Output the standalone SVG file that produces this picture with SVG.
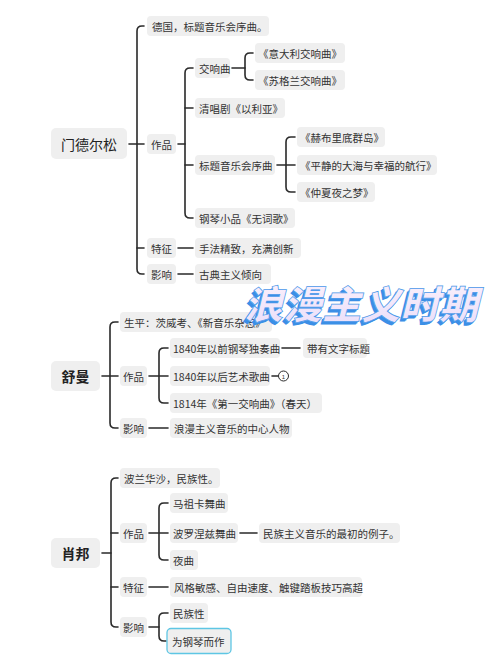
<svg xmlns="http://www.w3.org/2000/svg" width="500" height="666" viewBox="0 0 500 666">
<style>
.b{fill:#efefef}
.t{font-family:"Noto Sans CJK SC","Noto Sans",sans-serif;font-size:10.5px;fill:#333;dominant-baseline:central}
.r{font-family:"Noto Sans CJK SC","Noto Sans",sans-serif;font-size:14px;fill:#222;dominant-baseline:central;text-anchor:middle}
.l{stroke:#2a2a2a;stroke-width:1.6;fill:none;stroke-linecap:round}
.ti{font-family:"Noto Sans CJK SC",sans-serif;font-size:39px;font-weight:900}
</style>
<defs>
<linearGradient id="tg" x1="0" y1="0" x2="0" y2="1">
<stop offset="0" stop-color="#fdf2fb"/>
<stop offset="1" stop-color="#e9defa"/>
</linearGradient>
</defs>
<rect width="500" height="666" fill="#ffffff"/>

<g id="connectors">
<!-- Mendelssohn -->
<path class="l" d="M129 144 H144"/>
<path class="l" d="M144 26 H142 Q137 26 137 31 V269 Q137 274 142 274 H144"/>
<path class="l" d="M137 248 H144"/>
<path class="l" d="M178 144 H185"/>
<path class="l" d="M193 68 H190 Q185 68 185 73 V213 Q185 218 190 218 H193"/>
<path class="l" d="M185 108 H193 M185 165 H193"/>
<path class="l" d="M232 68 H245"/>
<path class="l" d="M253 53 H250 Q245 53 245 58 V75 Q245 80 250 80 H253"/>
<path class="l" d="M277 165 H295"/>
<path class="l" d="M295 137 H291 Q286 137 286 142 V187 Q286 192 291 192 H295"/>
<path class="l" d="M178 248 H193 M178 274 H193"/>
<!-- Schumann -->
<path class="l" d="M102 376 H118"/>
<path class="l" d="M118 322 H115 Q110 322 110 327 V423 Q110 428 115 428 H118"/>
<path class="l" d="M149 376 H168"/>
<path class="l" d="M168 348 H164 Q159 348 159 353 V398 Q159 403 164 403 H168"/>
<path class="l" d="M282 348 H300"/>
<path class="l" d="M272 376 H278"/>
<path class="l" d="M149 428 H168"/>
<!-- Chopin -->
<path class="l" d="M102 553 H111"/>
<path class="l" d="M118 478 H116 Q111 478 111 483 V622 Q111 627 116 627 H118"/>
<path class="l" d="M111 533 H118 M111 587 H118"/>
<path class="l" d="M149 533 H168"/>
<path class="l" d="M168 503 H164 Q159 503 159 508 V555 Q159 560 164 560 H168"/>
<path class="l" d="M240 533 H257"/>
<path class="l" d="M149 587 H168"/>
<path class="l" d="M149 627 H159"/>
<path class="l" d="M168 613 H164 Q159 613 159 618 V636 Q159 641 164 641 H166"/>
</g>

<!-- Mendelssohn nodes -->
<g id="mendelssohn"><rect class="b" x="51" y="128" width="76" height="31" rx="5"/><text class="r" x="89" y="144">门德尔松</text></g>
<g id="m-bio"><rect class="b" x="147" y="16" width="122" height="20" rx="4"/><text class="t" x="152" y="26">德国，标题音乐会序曲。</text></g>
<g id="m-works"><rect class="b" x="147" y="134" width="29" height="20" rx="4"/><text class="t" x="151" y="144">作品</text></g>
<g id="m-feature"><rect class="b" x="147" y="238" width="29" height="20" rx="4"/><text class="t" x="151" y="248">特征</text></g>
<g id="m-influence"><rect class="b" x="147" y="264" width="29" height="20" rx="4"/><text class="t" x="151" y="274">影响</text></g>
<g id="m-symph"><rect class="b" x="195" y="58" width="35" height="20" rx="4"/><text class="t" x="199" y="68">交响曲</text></g>
<g id="m-oratorio"><rect class="b" x="195" y="98" width="90" height="20" rx="4"/><text class="t" x="199" y="108">清唱剧《以利亚》</text></g>
<g id="m-overture"><rect class="b" x="195" y="155" width="80" height="20" rx="4"/><text class="t" x="199" y="165">标题音乐会序曲</text></g>
<g id="m-piano"><rect class="b" x="195" y="208" width="100" height="20" rx="4"/><text class="t" x="199" y="218">钢琴小品《无词歌》</text></g>
<g id="m-italy"><rect class="b" x="255" y="43" width="90" height="20" rx="4"/><text class="t" x="258" y="53">《意大利交响曲》</text></g>
<g id="m-scot"><rect class="b" x="255" y="70" width="90" height="20" rx="4"/><text class="t" x="258" y="80">《苏格兰交响曲》</text></g>
<g id="m-hebrides"><rect class="b" x="297" y="127" width="88" height="20" rx="4"/><text class="t" x="300" y="137">《赫布里底群岛》</text></g>
<g id="m-calm"><rect class="b" x="297" y="155" width="140" height="20" rx="4"/><text class="t" x="300" y="165">《平静的大海与幸福的航行》</text></g>
<g id="m-dream"><rect class="b" x="297" y="182" width="78" height="20" rx="4"/><text class="t" x="300" y="192">《仲夏夜之梦》</text></g>
<g id="m-feat-text"><rect class="b" x="195" y="238" width="106" height="20" rx="4"/><text class="t" x="199" y="248">手法精致，充满创新</text></g>
<g id="m-infl-text"><rect class="b" x="195" y="264" width="76" height="20" rx="4"/><text class="t" x="199" y="274">古典主义倾向</text></g>

<!-- Schumann nodes -->
<g id="schumann"><rect class="b" x="51" y="361" width="49" height="30" rx="5"/><text class="r" x="75.5" y="376" font-weight="700">舒曼</text></g>
<g id="s-bio"><rect class="b" x="120" y="312" width="152" height="20" rx="4"/><text class="t" x="124" y="322">生平：茨威考、《新音乐杂志》</text></g>
<g id="s-works"><rect class="b" x="120" y="366" width="27" height="20" rx="4"/><text class="t" x="123" y="376">作品</text></g>
<g id="s-influence"><rect class="b" x="120" y="418" width="27" height="20" rx="4"/><text class="t" x="123" y="428">影响</text></g>
<g id="s-piano"><rect class="b" x="170" y="338" width="110" height="20" rx="4"/><text class="t" x="173" y="348">1840年以前钢琴独奏曲</text></g>
<g id="s-title"><rect class="b" x="303" y="338" width="64" height="20" rx="4"/><text class="t" x="307" y="348">带有文字标题</text></g>
<g id="s-song"><rect class="b" x="170" y="366" width="100" height="20" rx="4"/><text class="t" x="173" y="376">1840年以后艺术歌曲</text></g>
<g id="s-note"><circle cx="283.5" cy="376" r="5" fill="#fff" stroke="#2a2a2a" stroke-width="1"/><text x="283.5" y="376.5" font-family="Liberation Sans,sans-serif" font-size="6" fill="#333" text-anchor="middle" dominant-baseline="central">1</text></g>
<g id="s-symph"><rect class="b" x="170" y="393" width="152" height="20" rx="4"/><text class="t" x="173" y="403">1814年《第一交响曲》（春天）</text></g>
<g id="s-infl-text"><rect class="b" x="170" y="418" width="122" height="20" rx="4"/><text class="t" x="174" y="428">浪漫主义音乐的中心人物</text></g>

<!-- Chopin nodes -->
<g id="chopin"><rect class="b" x="51" y="538" width="49" height="30" rx="5"/><text class="r" x="75.5" y="553" font-weight="700">肖邦</text></g>
<g id="c-bio"><rect class="b" x="120" y="468" width="100" height="20" rx="4"/><text class="t" x="124" y="478">波兰华沙，民族性。</text></g>
<g id="c-works"><rect class="b" x="120" y="523" width="27" height="20" rx="4"/><text class="t" x="123" y="533">作品</text></g>
<g id="c-feature"><rect class="b" x="120" y="577" width="27" height="20" rx="4"/><text class="t" x="123" y="587">特征</text></g>
<g id="c-influence"><rect class="b" x="120" y="617" width="27" height="20" rx="4"/><text class="t" x="123" y="627">影响</text></g>
<g id="c-mazurka"><rect class="b" x="170" y="493" width="58" height="20" rx="4"/><text class="t" x="173" y="503">马祖卡舞曲</text></g>
<g id="c-polonaise"><rect class="b" x="170" y="523" width="68" height="20" rx="4"/><text class="t" x="173" y="533">波罗涅兹舞曲</text></g>
<g id="c-example"><rect class="b" x="259" y="523" width="141" height="20" rx="4"/><text class="t" x="263" y="533">民族主义音乐的最初的例子。</text></g>
<g id="c-nocturne"><rect class="b" x="170" y="550" width="28" height="20" rx="4"/><text class="t" x="173" y="560">夜曲</text></g>
<g id="c-feat-text"><rect class="b" x="170" y="577" width="192" height="20" rx="4"/><text class="t" x="174" y="587">风格敏感、自由速度、触键踏板技巧高超</text></g>
<g id="c-national"><rect class="b" x="170" y="603" width="38" height="20" rx="4"/><text class="t" x="173" y="613">民族性</text></g>
<g id="c-piano"><rect class="b" x="167" y="628.5" width="64" height="25" rx="4" stroke="#5ec6e4" stroke-width="1.3"/><text class="t" x="172" y="641">为钢琴而作</text></g>

<!-- Title -->
<g id="title" transform="translate(244 319) skewX(-14)">
<text class="ti" x="-2" y="3" fill="#3b8fe6">浪漫主义时期</text>
<text class="ti" x="-1" y="1.5" fill="#3b8fe6">浪漫主义时期</text>
<text class="ti" x="0" y="0" fill="url(#tg)" stroke="#4a98ea" stroke-width="0.7">浪漫主义时期</text>
</g>
</svg>
